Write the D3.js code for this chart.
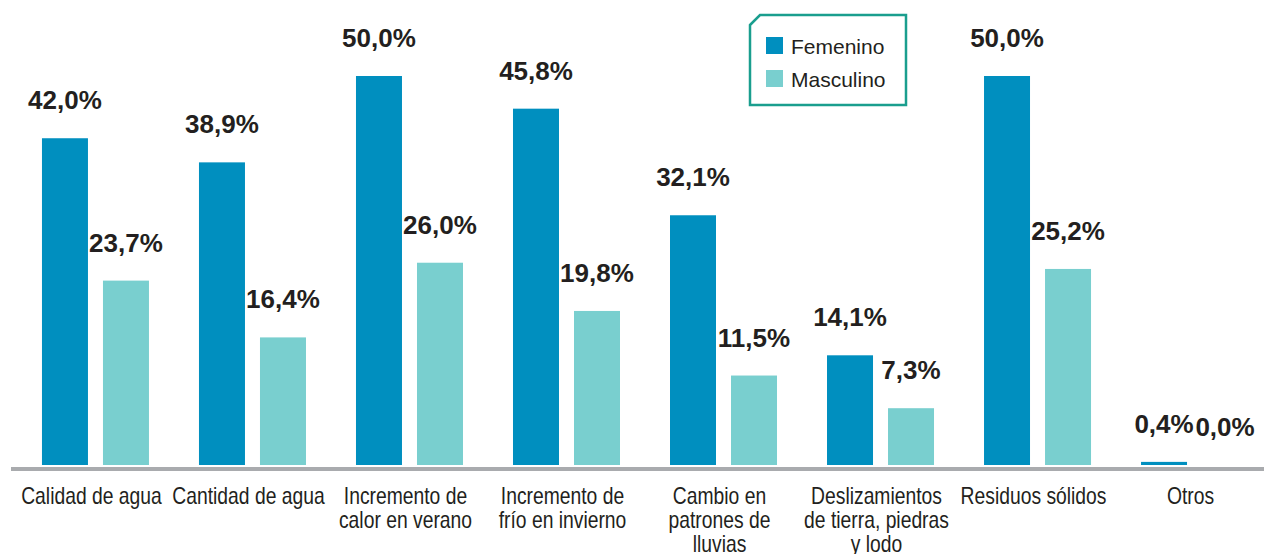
<!DOCTYPE html>
<html>
<head>
<meta charset="utf-8">
<script src="https://cdn.jsdelivr.net/npm/d3@7"></script>
<style>
  html, body { margin: 0; padding: 0; background: #fff; }
  svg { display: block; }
  .cat { font-family: "Liberation Sans", Arial, sans-serif; font-size: 23px; fill: #231f20; }
  .val { font-family: "Liberation Sans", Arial, sans-serif; font-weight: bold; font-size: 26px; fill: #231f20; }
  .leg { font-family: "Liberation Sans", Arial, sans-serif; font-size: 21px; fill: #231f20; }
</style>
</head>
<body>
<div id="chart"></div>
<script>
// Data
const categories = [
    ['Calidad de agua'],
    ['Cantidad de agua'],
    ['Incremento de', 'calor en verano'],
    ['Incremento de', 'frío en invierno'],
    ['Cambio en', 'patrones de', 'lluvias'],
    ['Deslizamientos', 'de tierra, piedras', 'y lodo'],
    ['Residuos sólidos'],
    ['Otros']
];
const seriesNames = ['Femenino', 'Masculino'];
const femenino = [42.0, 38.9, 50.0, 45.8, 32.1, 14.1, 50.0, 0.4];
const masculino = [23.7, 16.4, 26.0, 19.8, 11.5, 7.3, 25.2, 0.0];
const colors = { Femenino: '#008fbf', Masculino: '#79cfcf' };

const W = 1264, H = 554;
const svg = d3.select('#chart').append('svg')
    .attr('width', W).attr('height', H);

const keys = categories.map((c, i) => 'c' + i);

// Scales
const x0 = d3.scaleBand()
    .domain(keys)
    .range([17, 17 + 8 * 157])
    .paddingInner(0.3185)
    .paddingOuter(0.159);

const x1 = d3.scaleBand()
    .domain(seriesNames)
    .range([0, x0.bandwidth()])
    .paddingInner(0.246);

const y = d3.scaleLinear().domain([0, 50]).range([465, 76]);

const rows = keys.map((k, i) => ({
    key: k,
    values: [
        { name: 'Femenino', v: femenino[i] },
        { name: 'Masculino', v: masculino[i] }
    ]
}));

// Bars
const groups = svg.append('g')
    .selectAll('g')
    .data(rows)
    .join('g')
    .attr('transform', d => `translate(${x0(d.key)},0)`);

groups.selectAll('rect')
    .data(d => d.values)
    .join('rect')
    .attr('x', d => x1(d.name))
    .attr('y', d => y(d.v))
    .attr('width', x1.bandwidth())
    .attr('height', d => y(0) - y(d.v))
    .attr('fill', d => colors[d.name]);

groups.selectAll('text.val')
    .data(d => d.values)
    .join('text')
    .attr('class', 'val')
    .attr('text-anchor', 'middle')
    .attr('x', d => x1(d.name) + x1.bandwidth() / 2)
    .attr('y', d => y(d.v) - 29)
    .text(d => d.v.toFixed(1).replace('.', ',') + '%');

// Baseline
svg.append('line')
    .attr('x1', 11).attr('x2', W)
    .attr('y1', 469).attr('y2', 469)
    .attr('stroke', '#a9abae')
    .attr('stroke-width', 4);

// Category labels (condensed by a horizontal squeeze)
const xAxis = d3.axisBottom(x0).tickSize(0).tickFormat('');
const axisG = svg.append('g')
    .attr('transform', 'translate(0,471)')
    .call(xAxis)
    .call(g => g.select('.domain').remove());

axisG.selectAll('.tick').each(function (d, i) {
    const t = d3.select(this).append('g')
        .attr('transform', 'translate(-4,0) scale(0.84,1)')
        .append('text')
        .attr('class', 'cat')
        .attr('text-anchor', 'middle');
    categories[i].forEach((line, j) => {
        t.append('tspan')
            .attr('x', 0)
            .attr('y', 33 + j * 24)
            .text(line);
    });
});

// Legend
const legend = svg.append('g');
legend.append('polygon')
    .attr('points', '750,25 760,15 906,15 906,105 750,105')
    .attr('fill', '#fff')
    .attr('stroke', '#1a9e8e')
    .attr('stroke-width', 2.5);

seriesNames.forEach((name, i) => {
    const ly = 37 + i * 33;
    legend.append('rect')
        .attr('x', 766).attr('y', ly)
        .attr('width', 17).attr('height', 17)
        .attr('fill', colors[name]);
    legend.append('text')
        .attr('class', 'leg')
        .attr('x', 791).attr('y', ly + 17)
        .text(name);
});
</script>
</body>
</html>
